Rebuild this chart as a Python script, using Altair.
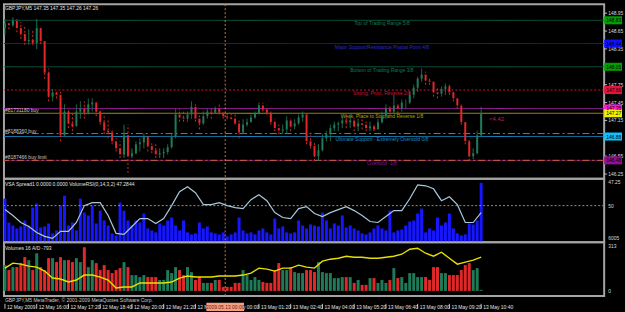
import altair as alt
import pandas as pd

FONT = "Liberation Sans"

# ---------------- price bars (index 0 = 12 May 2009 14:40, one bar per 10 min) ----------------
highs = [148.85, 148.80, 148.88, 148.85, 148.80, 148.75, 148.68, 148.68, 148.85, 148.60,
         148.50, 148.02, 147.68, 147.63, 147.63, 147.42, 147.35, 147.30, 147.42, 147.47,
         147.47, 147.52, 147.52, 147.47, 147.35, 147.25, 147.18, 147.02, 146.85, 146.80,
         147.08, 147.08, 146.68, 146.80, 146.85, 146.93, 146.88, 146.80, 146.75, 146.68,
         146.68, 146.75, 146.92, 147.35, 147.35, 147.30, 147.30, 147.47, 147.42, 147.25,
         147.30, 147.35, 147.35, 147.38, 147.42, 147.30, 147.27, 147.27, 147.25, 147.18,
         147.17, 147.18, 147.25, 147.30, 147.45, 147.45, 147.35, 147.30, 147.18, 147.08,
         147.08, 147.22, 147.18, 147.17, 147.25, 147.30, 147.25, 146.90, 146.80, 146.75,
         146.92, 146.97, 147.08, 147.13, 147.13, 147.22, 147.25, 147.25, 147.18, 147.18,
         147.17, 147.13, 147.13, 147.08, 147.17, 147.30, 147.42, 147.42, 147.58, 147.42,
         147.50, 147.50, 147.63, 147.75, 147.88, 148.02, 147.97, 147.88, 147.80, 147.72,
         147.72, 147.77, 147.77, 147.63, 147.55, 147.42, 147.15, 146.82, 146.68, 146.98,
         147.38]
lows = [148.58, 148.68, 148.72, 148.63, 148.52, 148.42, 148.42, 148.42, 148.35, 148.43,
        147.85, 147.47, 147.47, 147.52, 146.80, 146.88, 147.02, 146.97, 147.13, 147.18,
        147.18, 147.25, 147.30, 147.22, 147.08, 146.92, 146.85, 146.75, 146.63, 146.52,
        146.52, 146.27, 146.52, 146.58, 146.63, 146.68, 146.63, 146.60, 146.52, 146.52,
        146.52, 146.58, 146.68, 146.85, 147.13, 147.13, 147.13, 147.18, 147.13, 147.00,
        147.08, 147.18, 147.18, 147.27, 147.25, 147.18, 147.17, 147.17, 147.08, 146.85,
        146.93, 147.05, 147.13, 147.18, 147.25, 147.30, 147.25, 147.08, 146.97, 146.92,
        146.92, 146.93, 146.97, 147.00, 147.08, 147.13, 146.75, 146.68, 146.47, 146.47,
        146.63, 146.80, 146.80, 146.97, 146.97, 147.02, 147.02, 147.02, 146.97, 146.97,
        147.00, 146.97, 146.97, 146.97, 147.02, 147.10, 147.18, 147.22, 147.27, 147.27,
        147.30, 147.35, 147.43, 147.52, 147.63, 147.80, 147.75, 147.75, 147.55, 147.52,
        147.55, 147.58, 147.58, 147.47, 147.35, 147.08, 146.75, 146.47, 146.50, 146.58,
        146.88]
closes = [148.78, 148.75, 148.82, 148.70, 148.60, 148.48, 148.50, 148.45, 148.70, 148.48,
          147.95, 147.55, 147.62, 147.58, 146.90, 147.30, 147.10, 147.05, 147.30, 147.35,
          147.28, 147.42, 147.45, 147.30, 147.12, 146.98, 146.95, 146.80, 146.68, 146.58,
          146.90, 146.55, 146.60, 146.75, 146.78, 146.88, 146.72, 146.65, 146.58, 146.60,
          146.62, 146.70, 146.88, 147.25, 147.20, 147.18, 147.25, 147.38, 147.18, 147.10,
          147.22, 147.30, 147.28, 147.35, 147.28, 147.22, 147.20, 147.18, 147.10, 146.95,
          147.08, 147.12, 147.20, 147.27, 147.40, 147.33, 147.28, 147.12, 147.02, 146.98,
          147.00, 147.15, 147.05, 147.10, 147.20, 147.25, 146.80, 146.72, 146.55, 146.65,
          146.85, 146.92, 147.02, 147.08, 147.10, 147.15, 147.12, 147.15, 147.05, 147.10,
          147.08, 147.02, 147.05, 147.00, 147.12, 147.22, 147.35, 147.30, 147.40, 147.35,
          147.45, 147.45, 147.58, 147.70, 147.85, 147.92, 147.82, 147.80, 147.62, 147.60,
          147.68, 147.72, 147.62, 147.52, 147.40, 147.12, 146.80, 146.55, 146.60, 146.90,
          147.26]
first_open = 148.70

# ---------------- sub-window values per bar ----------------
vsa_spread = [44, 20, 17, 14, 16, 22, 17, 35, 39, 15,
              16, 19, 9, 12, 37, 47, 17, 20, 12, 44,
              30, 27, 37, 19, 32, 22, 17, 9, 7, 40,
              32, 22, 17, 22, 20, 29, 14, 12, 10, 19,
              17, 22, 25, 17, 12, 22, 10, 8, 9, 20,
              14, 16, 10, 9, 8, 10, 6, 8, 10, 25,
              12, 9, 10, 8, 12, 14, 10, 8, 24, 14,
              16, 10, 9, 10, 22, 17, 14, 18, 17, 16,
              30, 22, 14, 19, 17, 27, 15, 17, 14, 12,
              9, 8, 10, 14, 17, 14, 12, 32, 10, 12,
              13, 17, 21, 22, 29, 34, 10, 14, 12, 25,
              17, 20, 29, 14, 9, 7, 8, 19, 18, 22, 60]
volumes = [181, 146, 167, 167, 195, 237, 216, 146, 264, 167,
           146, 230, 230, 202, 237, 216, 216, 202, 230, 202,
           306, 167, 216, 195, 146, 181, 146, 125, 146, 160,
           202, 167, 111, 111, 97, 111, 97, 97, 97, 77,
           77, 146, 125, 167, 146, 111, 167, 132, 77, 97,
           56, 56, 56, 77, 77, 28, 28, 28, 56, 56,
           146, 111, 77, 97, 77, 63, 56, 56, 146, 195,
           146, 146, 167, 132, 125, 125, 146, 146, 132, 202,
           132, 125, 125, 90, 90, 97, 97, 97, 56, 77,
           42, 42, 90, 90, 56, 77, 56, 77, 160, 90,
           97, 56, 125, 125, 97, 97, 97, 77, 167, 167,
           125, 125, 111, 111, 111, 146, 181, 195, 146, 160, 7]

# ---------------- indicator lines (every second bar) ----------------
line_idx = list(range(0, 121, 2))
volume_rsi = [44.6, 36.5, 27.0, 21.6, 13.5, 8.1, 5.4, 14.9, 14.9, 27.0,
              50.0, 54.0, 54.0, 36.5, 12.2, 10.8, 21.6, 32.4, 32.4, 25.7,
              32.4, 50.0, 68.9, 75.6, 67.5, 51.3, 51.3, 54.0, 50.0, 47.3,
              45.9, 58.1, 64.8, 56.7, 40.5, 33.8, 32.4, 45.9, 48.6, 39.2,
              35.1, 40.5, 44.6, 48.6, 43.2, 36.5, 28.4, 27.0, 35.1, 43.2,
              43.2, 59.4, 78.3, 77.0, 72.9, 56.7, 62.1, 51.3, 27.0, 27.0, 40.5]
acc_dist = [-1453, -1153, -1213, -1333, -1393, -1633, -2053, -2113, -2293, -2173,
            -1873, -1873, -1993, -2173, -2653, -2593, -2593, -2353, -2353, -2353,
            -2353, -2293, -2053, -1933, -1993, -1993, -1993, -1933, -1933, -1933,
            -1873, -1753, -1453, -1513, -1633, -1453, -1453, -1273, -1393, -1453,
            -1033, -913, -853, -733, -793, -793, -853, -853, -793, -733,
            -613, -313, -253, -553, -733, -493, -853, -1213, -1093, -973, -793]

# ---------------- horizontal levels ----------------
hline_prices = [148.83, 148.44, 148.05, 147.66, 147.35, 147.27, 146.93, 146.88, 146.48, 146.48]
hline_colors = ["#0c5a42", "#1c1cb0", "#0c5a42", "#c81838", "#9a1c9a", "#a89c00",
                "#c0602a", "#1a88c0", "#7a1a7a", "#d0603a"]
hline_dash = ["solid", "solid", "solid", "dot", "solid", "solid", "dashdot", "solid", "solid", "dashdot"]

murrey_prices = [148.83, 148.44, 148.05, 147.66, 147.27, 146.88, 146.48]
murrey_names = ["Top of Trading Range  5/8", "Major Support/Resistance Pivotal Point  4/8",
                "Bottom of Trading Range  3/8", "Strong, Pivot, Reverse  2/8",
                "Weak, Place to Stop and Reverse  1/8", "Ultimate Support - Extremely Oversold  0/8",
                "Oversold  -1/8"]
murrey_text_colors = ["#187858", "#2a2ad0", "#187858", "#c81838", "#b0a400", "#1a90c8", "#8a1a8a"]
murrey_label_bar = 95

order_prices = [147.27, 146.93, 146.48]
order_names = ["#81731180 buy", "#8188360 buy", "#8187466 buy limit"]

tag_prices = [148.83, 148.44, 148.05, 147.66, 147.35, 147.27, 146.88, 146.48]
tag_colors = ["#00a000", "#1010ff", "#00a000", "#e0143c", "#ff18d8", "#f0f000", "#10c0ff", "#901090"]

price_ticks = [148.95, 148.65, 148.35, 147.75, 147.45, 147.15, 146.55, 146.25]

time_idx = list(range(0, 121, 8))
time_labels = ["12 May 2009", "12 May 16:00", "12 May 17:20", "12 May 18:40", "12 May 20:00",
               "12 May 21:20", "12 May 22:40", "13 May 00:00", "13 May 01:20", "13 May 02:40",
               "13 May 04:00", "13 May 05:20", "13 May 06:40", "13 May 08:00", "13 May 09:20",
               "13 May 10:40"]
cursor_bar = 55.5
cursor_label = "2009.05.13 00:00"

profit_bar = [122]
profit_price = [147.18]
profit_text = ["<4.42"]

title_main = "GBPJPY,M5  147.35 147.35 147.26 147.26"
title_vsa = "VSA Spread1 0.0000 0.0000   VolumeRSI(0,14,3,2) 47.2844"
title_vol = "Volumes 16   A/D -793"
copyright_text = "GBPJPY,M5  MetaTrader, © 2001-2009 MetaQuotes Software Corp."

# ---------------- tables ----------------
opens = [first_open] + closes[:-1]
bars = pd.DataFrame({"i": list(range(len(closes))), "o": opens, "h": highs, "l": lows,
                     "c": closes, "vsa": vsa_spread, "vol": volumes})
bars["dir"] = ["up" if c >= o else "down" for o, c in zip(opens, closes)]
down_bars = bars[bars["dir"] == "down"]
ind = pd.DataFrame({"i": line_idx, "rsi": volume_rsi, "ad": acc_dist})
hl = pd.DataFrame({"p": hline_prices, "col": hline_colors, "dash": hline_dash})
mur = pd.DataFrame({"p": murrey_prices, "t": murrey_names, "col": murrey_text_colors,
                    "i": [murrey_label_bar] * len(murrey_prices)})
orders = pd.DataFrame({"p": order_prices, "t": order_names, "i": [0] * len(order_prices)})
tags = pd.DataFrame({"p": tag_prices, "bg": tag_colors})
ticks = pd.DataFrame({"p": price_ticks})
times = pd.DataFrame({"i": time_idx, "t": time_labels})
cur = pd.DataFrame({"i": [cursor_bar], "t": [cursor_label]})
prof = pd.DataFrame({"i": profit_bar, "p": profit_price, "t": profit_text})
one = pd.DataFrame({"k": [0]})

W = 605
H1, H2, H3 = 176, 64, 54
xs = alt.Scale(domain=[-0.25, 151.0], nice=False, zero=False)
X = alt.X("i:Q", scale=xs, axis=None)
py = alt.Scale(domain=[146.17, 149.10], nice=False, zero=False)
PY = lambda f: alt.Y(f, scale=py, axis=None)
dir_col = alt.Color("dir:N", scale=alt.Scale(domain=["up", "down"], range=["#1f7a58", "#e02828"]), legend=None)
body_col = alt.Color("dir:N", scale=alt.Scale(domain=["up", "down"], range=["#1f7a58", "#7c1850"]), legend=None)
BOX = "M-1,-0.45L1,-0.45L1,0.45L-1,0.45Z"


def txt(**kw):
    base = dict(font=FONT, fontSize=5, align="left", baseline="middle")
    base.update(kw)
    return base


def label(text, x, y, **kw):
    return alt.Chart(one).mark_text(**txt(**kw)).encode(
        x=alt.value(x), y=alt.value(y), text=alt.value(text))


cursor_rule = alt.Chart(cur).mark_rule(color="#c87840", strokeDash=[2, 2], strokeWidth=1).encode(x=X)

# ---------------- panel 1: price ----------------
rules = alt.Chart(hl).mark_rule(strokeWidth=1).encode(
    y=PY("p:Q"), color=alt.Color("col:N", scale=None),
    strokeDash=alt.StrokeDash("dash:N", scale=alt.Scale(domain=["solid", "dot", "dashdot"],
                                                        range=[[1, 0], [2, 2], [7, 3, 2, 3]]), legend=None))
mur_text = alt.Chart(mur).mark_text(**txt(align="center", dy=3)).encode(
    x=X, y=PY("p:Q"), text="t:N", color=alt.Color("col:N", scale=None))
order_text = alt.Chart(orders).mark_text(**txt(dy=-3, color="#c8c8c8")).encode(
    x=X, y=PY("p:Q"), text="t:N")
wick = alt.Chart(bars).mark_rule(strokeWidth=1).encode(
    x=X, y=PY("l:Q"), y2="h:Q", color=dir_col,
    strokeDash=alt.StrokeDash("dir:N", scale=alt.Scale(domain=["up", "down"], range=[[1, 0], [1, 1]]), legend=None))
body = alt.Chart(bars).mark_rule(strokeWidth=2).encode(x=X, y=PY("o:Q"), y2="c:Q", color=body_col)
tick_marks = alt.Chart(ticks).mark_rule(color="#c0c0c0").encode(
    y=PY("p:Q"), x=alt.value(W), x2=alt.value(W + 3))
tick_text = alt.Chart(ticks).mark_text(**txt(color="#d8d8d8")).encode(
    y=PY("p:Q"), x=alt.value(W + 4), text=alt.Text("p:Q", format=".2f"))
tag_box = alt.Chart(tags).mark_point(shape=BOX, filled=True, size=324, opacity=1, strokeWidth=0).encode(
    y=PY("p:Q"), x=alt.value(W + 9), color=alt.Color("bg:N", scale=None))
tag_text = alt.Chart(tags).mark_text(**txt(color="#000000")).encode(
    y=PY("p:Q"), x=alt.value(W + 2), text=alt.Text("p:Q", format=".2f"))
prof_text = alt.Chart(prof).mark_text(**txt(fontSize=6, color="#c0204a")).encode(
    x=X, y=PY("p:Q"), text="t:N")
title1 = label(title_main, 1, 4, color="#e0e0e0")

p1 = alt.layer(rules, mur_text, order_text, cursor_rule, wick, body, prof_text,
               tick_marks, tick_text, tag_box, tag_text, title1).properties(width=W, height=H1)

# ---------------- panel 2: VSA / VolumeRSI ----------------
rs = alt.Scale(domain=[0, 86.5], nice=False, zero=False)
vs = alt.Scale(domain=[0, 64], nice=False, zero=False)
vsa_bars = alt.Chart(bars).mark_rule(strokeWidth=3, color="#1616ff").encode(
    x=X, y=alt.Y("vsa:Q", scale=vs, axis=None), y2=alt.datum(0))
rsi_line = alt.Chart(ind).mark_line(color="#a8c8dc", strokeWidth=1.2).encode(
    x=X, y=alt.Y("rsi:Q", scale=rs, axis=None))
lvl = pd.DataFrame({"r": [86.5, 50, 0], "t": ["47.25", "50", "6005"]})
rule50 = alt.Chart(lvl[lvl.r == 50]).mark_rule(color="#909090", strokeDash=[2, 2]).encode(
    y=alt.Y("r:Q", scale=rs, axis=None))
lab_top = alt.Chart(lvl[lvl.r == 86.5]).mark_text(**txt(baseline="top", dy=1, color="#d8d8d8")).encode(
    y=alt.Y("r:Q", scale=rs, axis=None), x=alt.value(W + 4), text="t:N")
lab_mid = alt.Chart(lvl[lvl.r == 50]).mark_text(**txt(color="#d8d8d8")).encode(
    y=alt.Y("r:Q", scale=rs, axis=None), x=alt.value(W + 4), text="t:N")
lab_bot = alt.Chart(lvl[lvl.r == 0]).mark_text(**txt(baseline="bottom", dy=-1, color="#d8d8d8")).encode(
    y=alt.Y("r:Q", scale=rs, axis=None), x=alt.value(W + 4), text="t:N")
title2 = label(title_vsa, 1, 5, color="#e0e0e0")
p2 = alt.layer(vsa_bars, rule50, cursor_rule, rsi_line, lab_top, lab_mid, lab_bot, title2).resolve_scale(
    y="independent").properties(width=W, height=H2)

# ---------------- panel 3: Volumes / A-D ----------------
qs = alt.Scale(domain=[-35, 341], nice=False, zero=False)
ads = alt.Scale(domain=[-3133, 107], nice=False, zero=False)
vol_col = alt.Color("dir:N", scale=alt.Scale(domain=["up", "down"], range=["#1e961e", "#5e1030"]), legend=None)
vol_bars = alt.Chart(bars).mark_rule(strokeWidth=3).encode(
    x=X, y=alt.Y("vol:Q", scale=qs, axis=None), y2=alt.datum(0), color=vol_col)
vol_dots = alt.Chart(down_bars).mark_rule(strokeWidth=1, color="#e82828", strokeDash=[1, 1]).encode(
    x=X, y=alt.Y("vol:Q", scale=qs, axis=None), y2=alt.datum(0))
ad_line = alt.Chart(ind).mark_line(color="#e8e000", strokeWidth=1.4).encode(
    x=X, y=alt.Y("ad:Q", scale=ads, axis=None))
vlab = pd.DataFrame({"v": [313, 0], "t": ["313", "0"]})
vlab_text = alt.Chart(vlab).mark_text(**txt(color="#d8d8d8")).encode(
    y=alt.Y("v:Q", scale=qs, axis=None), x=alt.value(W + 4), text="t:N")
title3 = label(title_vol, 1, 6, color="#e0e0e0")
time_ticks = alt.Chart(times).mark_rule(color="#c0c0c0").encode(
    x=X, y=alt.value(H3 + 8), y2=alt.value(H3 + 13))
time_text = alt.Chart(times).mark_text(**txt(dx=2, color="#e0e0e0")).encode(
    x=X, y=alt.value(H3 + 11), text="t:N")
cur_box = alt.Chart(cur).mark_point(shape="M-1,-0.22L1,-0.22L1,0.22L-1,0.22Z", filled=True, size=1444,
                                    opacity=1, strokeWidth=0, color="#f4a080").encode(x=X, y=alt.value(H3 + 11))
cur_text = alt.Chart(cur).mark_text(**txt(align="center", color="#702010")).encode(
    x=X, y=alt.value(H3 + 11), text="t:N")
copy_text = label(copyright_text, 1, H3 + 4, color="#c8c8c8")
p3 = alt.layer(vol_bars, vol_dots, cursor_rule, ad_line, vlab_text, title3, copy_text, time_ticks, time_text,
               cur_box, cur_text).resolve_scale(y="independent").properties(width=W, height=H3)

chart = alt.vconcat(p1, p2, p3, spacing=0, bounds="flush").properties(
    background="#000000", padding={"left": 1, "top": 1, "right": 0, "bottom": 1}
).configure_view(stroke="#a4a4a4", strokeWidth=2)

chart.save("out.html", embed_options={"renderer": "svg", "actions": False})
